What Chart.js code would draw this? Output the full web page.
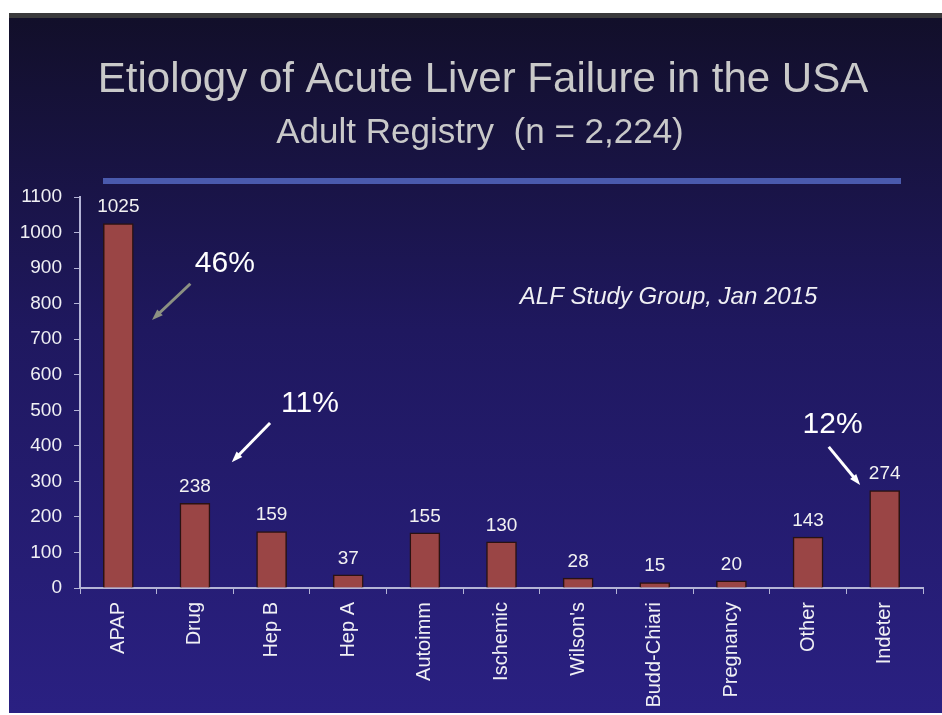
<!DOCTYPE html>
<html lang="en">
<head>
  <meta charset="UTF-8" />
  <title>Etiology of Acute Liver Failure in the USA</title>
  <script src="https://cdn.jsdelivr.net/npm/chart.js"></script>
  <style>
    html, body {
      margin: 0;
      padding: 0;
      background: #fff;
    }
    canvas {
      display: block;
    }
  </style>
</head>
<body>
  <canvas id="alfChart" width="942" height="715"></canvas>

  <script>
  // categories and counts
  const etiologies = ['APAP', 'Drug', 'Hep B', 'Hep A', 'Autoimm', 'Ischemic',
    "Wilson's", 'Budd-Chiari', 'Pregnancy', 'Other', 'Indeter'];
  const patients = [1025, 238, 159, 37, 155, 130, 28, 15, 20, 143, 274];

  const titleText = 'Etiology of Acute Liver Failure in the USA';
  const subtitleText = 'Adult Registry  (n = 2,224)';
  const sourceNote = 'ALF Study Group, Jan 2015';

  // callouts, placed in data units (category index, patients)
  const percentLabels = ['46%', '11%', '12%'];
  const percentAt = [[1.39, 912], [2.5, 518], [9.32, 458]];
  const arrowFrom = [[0.94, 856], [1.98, 464], [9.27, 397]];
  const arrowTo = [[0.44, 754], [1.48, 354], [9.68, 290]];
  const arrowColors = ['#8c9182', '#ffffff', '#ffffff'];

  const axisColor = '#b4b4d6';
  const fontFamily = '"Liberation Sans", Arial, sans-serif';

  const slideDecor = {
    id: 'slideDecor',
    beforeDraw(chart) {
      const c = chart.ctx;
      const w = chart.width, h = chart.height;
      c.save();
      c.fillStyle = '#ffffff';
      c.fillRect(0, 0, w, h);
      c.fillStyle = '#3a3a3c';
      c.fillRect(9, 13, w - 9, 5);
      const g = c.createLinearGradient(0, 18, 0, 713);
      g.addColorStop(0, '#120f2a');
      g.addColorStop(0.45, '#1f185f');
      g.addColorStop(1, '#2a2082');
      c.fillStyle = g;
      c.fillRect(9, 18, w - 9, 695);

      c.fillStyle = '#c9c9c9';
      c.textAlign = 'center';
      c.textBaseline = 'alphabetic';
      c.font = '42px ' + fontFamily;
      c.fillText(titleText, 483, 92);
      c.font = '35px ' + fontFamily;
      c.fillText(subtitleText, 480, 143);

      c.fillStyle = '#4a5aad';
      c.fillRect(103, 178, 798, 6);
      c.restore();
    },
    afterDatasetsDraw(chart) {
      const c = chart.ctx;
      const xs = chart.scales.x, ys = chart.scales.y;
      const px = v => xs.getPixelForValue(v);
      c.save();
      // value labels above bars
      c.fillStyle = '#f2f2f2';
      c.font = '19px ' + fontFamily;
      c.textAlign = 'center';
      c.textBaseline = 'bottom';
      chart.getDatasetMeta(0).data.forEach((bar, i) => {
        c.fillText(String(patients[i]), bar.x, bar.y - 7);
      });

      // percentage callouts
      c.font = '30px ' + fontFamily;
      c.textBaseline = 'middle';
      c.fillStyle = '#ffffff';
      percentLabels.forEach((t, i) => {
        c.fillText(t, px(percentAt[i][0]), ys.getPixelForValue(percentAt[i][1]));
      });

      // arrows
      arrowFrom.forEach((f, i) => {
        const x1 = px(f[0]), y1 = ys.getPixelForValue(f[1]);
        const x2 = px(arrowTo[i][0]), y2 = ys.getPixelForValue(arrowTo[i][1]);
        const ang = Math.atan2(y2 - y1, x2 - x1);
        c.strokeStyle = arrowColors[i];
        c.fillStyle = arrowColors[i];
        c.lineWidth = 3;
        c.beginPath();
        c.moveTo(x1, y1);
        c.lineTo(x2 - 8 * Math.cos(ang), y2 - 8 * Math.sin(ang));
        c.stroke();
        c.beginPath();
        c.moveTo(x2, y2);
        c.lineTo(x2 - 11 * Math.cos(ang) + 4 * Math.sin(ang), y2 - 11 * Math.sin(ang) - 4 * Math.cos(ang));
        c.lineTo(x2 - 11 * Math.cos(ang) - 4 * Math.sin(ang), y2 - 11 * Math.sin(ang) + 4 * Math.cos(ang));
        c.closePath();
        c.fill();
      });

      c.font = 'italic 24px ' + fontFamily;
      c.fillStyle = '#f0f0f4';
      c.fillText(sourceNote, px(7.18), ys.getPixelForValue(818));
      c.restore();
    }
  };

  const ctx = document.getElementById('alfChart').getContext('2d');
  new Chart(ctx, {
    type: 'bar',
    data: {
      labels: etiologies,
      datasets: [{
        data: patients,
        backgroundColor: '#9a4545',
        borderColor: '#2a1212',
        borderWidth: 1.5,
        barThickness: 30
      }]
    },
    options: {
      responsive: false,
      animation: false,
      layout: { padding: { top: 197, right: 19, left: 0, bottom: 0 } },
      plugins: {
        legend: { display: false },
        tooltip: { enabled: false }
      },
      scales: {
        x: {
          afterFit: s => { s.height = 127; },
          grid: {
            display: true,
            offset: true,
            drawOnChartArea: false,
            drawTicks: true,
            tickLength: 6,
            color: axisColor
          },
          border: { display: true, color: axisColor, width: 2 },
          ticks: {
            minRotation: 90,
            maxRotation: 90,
            padding: 8,
            color: '#f0f0f4',
            font: { family: fontFamily, size: 20 }
          }
        },
        y: {
          min: 0,
          max: 1100,
          afterFit: s => { s.width = 80; },
          grid: {
            display: true,
            drawOnChartArea: false,
            drawTicks: true,
            tickLength: 6,
            color: axisColor
          },
          border: { display: true, color: axisColor, width: 2 },
          ticks: {
            stepSize: 100,
            padding: 12,
            color: '#f0f0f4',
            font: { family: fontFamily, size: 19 },
            callback: v => String(v)
          }
        }
      }
    },
    plugins: [slideDecor]
  });
  </script>
</body>
</html>
